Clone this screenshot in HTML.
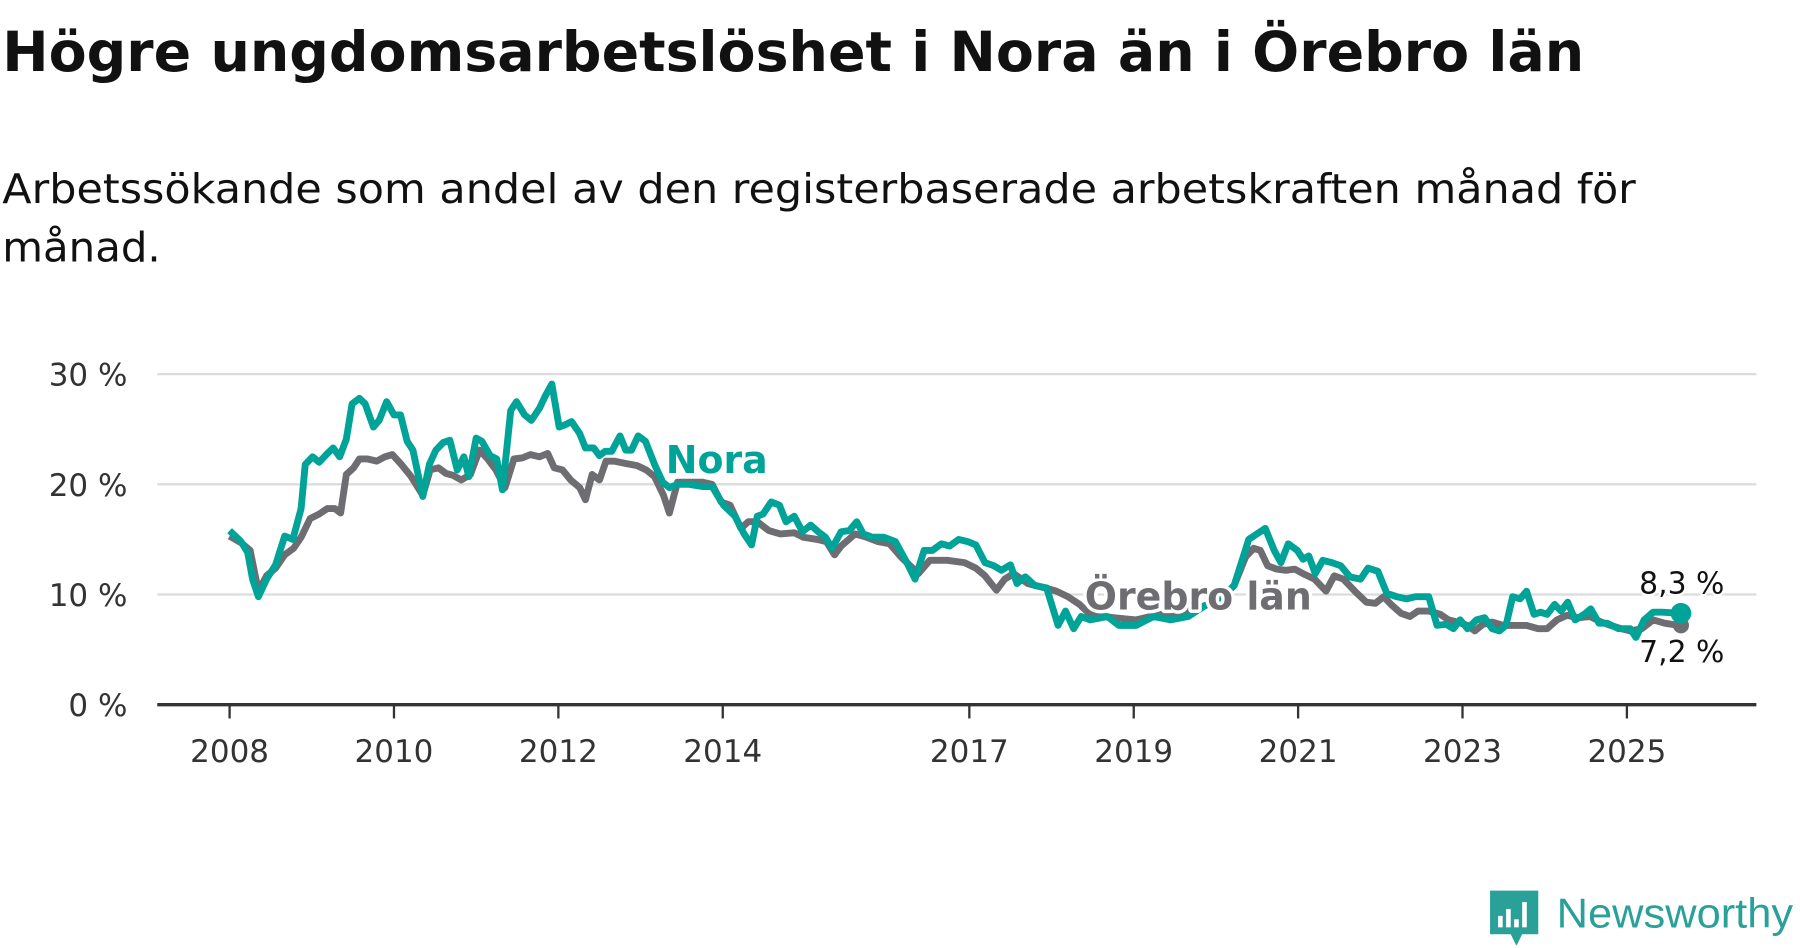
<!DOCTYPE html>
<html><head><meta charset="utf-8"><style>
html,body{margin:0;padding:0;background:#fff;}
svg{display:block;font-family:"DejaVu Sans","Liberation Sans",sans-serif;}
</style></head><body>
<svg id="chart" width="1800" height="948" viewBox="0 0 1568 826" preserveAspectRatio="none" xmlns="http://www.w3.org/2000/svg">
<text x="2" y="62" font-size="48" font-weight="bold" fill="#111" textLength="1378" lengthAdjust="spacingAndGlyphs">Högre ungdomsarbetslöshet i Nora än i Örebro län</text>
<text x="2" y="177" font-size="36" fill="#111" textLength="1423" lengthAdjust="spacingAndGlyphs">Arbetssökande som andel av den registerbaserade arbetskraften månad för</text>
<text x="2" y="228" font-size="36" fill="#111" textLength="138" lengthAdjust="spacingAndGlyphs">månad.</text>
<g id="grid"></g><g id="axes"></g><g id="lines"></g><g id="labels"></g>
<g>
<path d="M1298 776 h42 v38 h-14 l-5 10 l-5 -10 h-18 z" fill="#2aa198"/>
<rect x="1305" y="798" width="4" height="10" fill="#fff"/><rect x="1312" y="792" width="4" height="16" fill="#fff"/><rect x="1319" y="801" width="4" height="7" fill="#fff"/><rect x="1326" y="786" width="4" height="22" fill="#fff"/>
<text x="1356" y="808" font-size="36" fill="#2aa198" font-family="Liberation Sans, sans-serif" textLength="206" lengthAdjust="spacingAndGlyphs">Newsworthy</text>
</g>
</svg>
<script>
const yTicks=[0,10,20,30];
const yTickLabels=["0 %","10 %","20 %","30 %"];
const xTicks=[2008,2010,2012,2014,2017,2019,2021,2023,2025];
const noraDates=[2008.00,2008.14,2008.22,2008.28,2008.35,2008.45,2008.56,2008.67,2008.77,2008.87,2008.92,2009.01,2009.09,2009.19,2009.26,2009.34,2009.42,2009.49,2009.58,2009.65,2009.75,2009.82,2009.91,2010.00,2010.08,2010.16,2010.23,2010.35,2010.43,2010.51,2010.60,2010.68,2010.77,2010.85,2010.91,2011.00,2011.07,2011.17,2011.25,2011.32,2011.42,2011.49,2011.59,2011.67,2011.77,2011.84,2011.92,2012.01,2012.08,2012.16,2012.26,2012.33,2012.43,2012.50,2012.57,2012.65,2012.75,2012.82,2012.89,2012.97,2013.06,2013.17,2013.27,2013.35,2013.45,2013.59,2013.75,2013.87,2014.01,2014.15,2014.26,2014.35,2014.42,2014.49,2014.59,2014.69,2014.77,2014.87,2014.97,2015.07,2015.16,2015.25,2015.33,2015.44,2015.54,2015.63,2015.71,2015.82,2015.96,2016.10,2016.24,2016.34,2016.45,2016.55,2016.66,2016.76,2016.87,2016.98,2017.08,2017.19,2017.30,2017.39,2017.50,2017.58,2017.68,2017.80,2017.94,2018.08,2018.17,2018.27,2018.36,2018.47,2018.68,2018.82,2019.03,2019.24,2019.45,2019.66,2019.87,2020.08,2020.22,2020.40,2020.50,2020.60,2020.71,2020.79,2020.88,2020.99,2021.06,2021.13,2021.21,2021.30,2021.41,2021.52,2021.63,2021.76,2021.85,2021.97,2022.08,2022.20,2022.32,2022.43,2022.59,2022.69,2022.80,2022.89,2022.97,2023.06,2023.17,2023.27,2023.36,2023.45,2023.53,2023.61,2023.70,2023.78,2023.87,2023.95,2024.03,2024.12,2024.20,2024.28,2024.37,2024.48,2024.56,2024.66,2024.76,2024.90,2025.04,2025.11,2025.21,2025.32,2025.43,2025.63];
const noraValues=[15.8,14.8,13.8,11.4,9.8,11.4,12.7,15.3,15.0,17.8,21.8,22.5,22.0,22.8,23.3,22.5,24.1,27.3,27.8,27.3,25.2,25.8,27.5,26.3,26.3,23.9,23.1,18.9,21.8,23.1,23.8,24.0,21.3,22.5,20.7,24.2,23.9,22.6,22.3,19.5,26.7,27.5,26.3,25.8,26.9,28.0,29.1,25.2,25.4,25.7,24.6,23.3,23.3,22.6,23.0,23.0,24.4,23.1,23.1,24.4,23.9,21.8,20.2,19.7,20.0,20.0,19.8,19.8,18.1,17.1,15.5,14.5,17.1,17.3,18.4,18.1,16.6,17.1,15.7,16.3,15.7,15.2,14.2,15.7,15.8,16.6,15.5,15.2,15.2,14.8,12.9,11.4,14.0,14.0,14.6,14.4,15.0,14.8,14.5,12.9,12.6,12.2,12.7,11.0,11.6,10.8,10.6,7.2,8.5,6.9,8.0,7.7,8.0,7.2,7.2,8.0,7.7,8.0,9.0,9.8,10.8,15.0,15.5,16.0,14.0,12.9,14.6,14.0,13.2,13.5,11.9,13.1,12.9,12.6,11.6,11.4,12.4,12.1,10.1,9.8,9.6,9.8,9.8,7.2,7.3,6.9,7.7,6.9,7.7,7.9,6.9,6.7,7.2,9.8,9.6,10.3,8.2,8.4,8.2,9.1,8.5,9.3,7.7,8.2,8.7,7.4,7.4,6.9,6.9,6.1,7.7,8.4,8.4,8.3];
const lanDates=[2008.00,2008.14,2008.25,2008.35,2008.45,2008.56,2008.67,2008.78,2008.87,2008.98,2009.09,2009.19,2009.28,2009.35,2009.42,2009.51,2009.58,2009.68,2009.79,2009.89,2009.98,2010.09,2010.21,2010.35,2010.44,2010.54,2010.63,2010.72,2010.82,2010.93,2011.04,2011.14,2011.24,2011.35,2011.46,2011.56,2011.66,2011.77,2011.87,2011.95,2012.05,2012.15,2012.26,2012.33,2012.41,2012.50,2012.58,2012.68,2012.82,2012.96,2013.07,2013.17,2013.28,2013.35,2013.45,2013.59,2013.75,2013.87,2013.98,2014.09,2014.22,2014.31,2014.42,2014.56,2014.70,2014.87,2014.98,2015.15,2015.26,2015.36,2015.44,2015.61,2015.75,2015.89,2016.03,2016.17,2016.38,2016.52,2016.73,2016.94,2017.08,2017.19,2017.33,2017.43,2017.54,2017.71,2017.92,2018.06,2018.20,2018.34,2018.47,2018.75,2019.03,2019.31,2019.59,2019.87,2020.08,2020.22,2020.36,2020.46,2020.54,2020.63,2020.74,2020.85,2020.96,2021.06,2021.20,2021.34,2021.44,2021.55,2021.69,2021.83,2021.94,2022.04,2022.13,2022.25,2022.36,2022.46,2022.59,2022.73,2022.83,2022.94,2023.06,2023.15,2023.25,2023.36,2023.50,2023.64,2023.78,2023.92,2024.03,2024.15,2024.27,2024.41,2024.55,2024.69,2024.80,2024.93,2025.04,2025.18,2025.32,2025.46,2025.63];
const lanValues=[15.3,14.7,14.0,10.3,11.7,12.4,13.6,14.2,15.2,16.9,17.3,17.8,17.8,17.4,20.9,21.5,22.3,22.3,22.1,22.5,22.7,21.8,20.7,19.0,21.3,21.5,21.0,20.8,20.4,20.9,23.1,22.3,21.3,19.7,22.3,22.4,22.7,22.5,22.8,21.5,21.3,20.4,19.7,18.6,20.9,20.4,22.1,22.1,21.9,21.7,21.3,20.7,19.0,17.4,20.2,20.2,20.2,20.0,18.4,18.1,16.0,16.6,16.6,15.8,15.5,15.6,15.2,15.0,14.8,13.6,14.4,15.5,15.2,14.8,14.6,13.4,11.9,13.1,13.1,12.9,12.4,11.7,10.4,11.4,11.9,11.0,10.6,10.3,9.8,9.1,8.2,7.9,7.7,8.2,8.4,9.0,9.8,10.8,13.4,14.2,14.0,12.6,12.3,12.2,12.3,11.9,11.4,10.3,11.7,11.4,10.3,9.3,9.2,9.8,9.1,8.3,8.0,8.5,8.5,8.2,7.7,7.5,7.2,6.7,7.3,7.5,7.2,7.2,7.2,6.9,6.9,7.7,8.1,7.9,8.0,7.5,7.2,6.9,6.7,6.9,7.7,7.4,7.2];

const NS='http://www.w3.org/2000/svg';
const X0=137,X1=1530,Y0=614;
const xs=y=>200+(y-2008)*71.6;
const ys=v=>Y0-v*9.6;
function mk(tag,attrs,parent){const e=document.createElementNS(NS,tag);for(const k in attrs)e.setAttribute(k,attrs[k]);document.getElementById(parent).appendChild(e);return e;}
yTicks.forEach((t,i)=>{
  if(t>0){const g=mk('line',{x1:X0,x2:X1,y1:ys(t),y2:ys(t),stroke:'#dcdcdc','stroke-width':2},'grid');
  
  }
  const l=mk('text',{x:111,y:ys(t)+10,'text-anchor':'end','font-size':27,fill:'#333'},'axes');
  l.textContent=yTickLabels[i];
  
  
});
const ax=mk('line',{x1:X0,x2:X1,y1:Y0,y2:Y0,stroke:'#333','stroke-width':3},'axes');


xTicks.forEach(t=>{
  const tk=mk('line',{x1:xs(t),x2:xs(t),y1:Y0,y2:Y0+12,stroke:'#333','stroke-width':2},'axes');
  
  
  const l=mk('text',{x:xs(t),y:664,'text-anchor':'middle','font-size':27,fill:'#333'},'axes');
  l.textContent=t;
  
  
});
function path(d,v){return d.map((t,i)=>(i?'L':'M')+xs(t).toFixed(1)+' '+ys(v[i]).toFixed(1)).join(' ');}
const lp=mk('path',{d:path(lanDates,lanValues),fill:'none',stroke:'#6e6d72','stroke-width':6,'stroke-linejoin':'round'},'lines');


const np=mk('path',{d:path(noraDates,noraValues),fill:'none',stroke:'#00a398','stroke-width':6,'stroke-linejoin':'round'},'lines');


const ld=mk('circle',{cx:xs(lanDates[lanDates.length-1])+2,cy:ys(lanValues[lanValues.length-1]),r:7,fill:'#6e6d72'},'lines');


const nd=mk('circle',{cx:xs(noraDates[noraDates.length-1])+2,cy:ys(noraValues[noraValues.length-1]),r:9,fill:'#00a398'},'lines');


function lab(txt,x,y,size,fill,bold,name){
  const t=mk('text',{x:x,y:y,'font-size':size,fill:fill,'font-weight':bold?'bold':'normal',stroke:'#fff','stroke-width':bold?6:4,'paint-order':'stroke','stroke-linejoin':'round'},'labels');
  t.textContent=txt;
  
  
  return t;
}
lab('Nora',580,412,33,'#00a398',true,'nora-series-label');
lab('Örebro län',945,531,33,'#6e6d72',true,'orebro-lan-series-label');
const e1=lab('8,3 %',1465,517,26,'#111',false,'nora-end-value');e1.setAttribute('text-anchor','middle');
const e2=lab('7,2 %',1465,577,26,'#111',false,'orebro-lan-end-value');e2.setAttribute('text-anchor','middle');
</script>
</body></html>
